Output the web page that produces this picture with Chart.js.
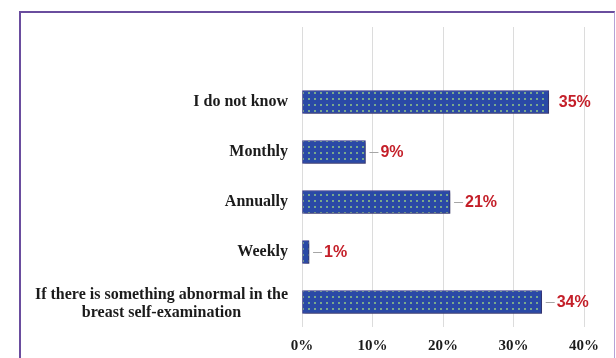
<!DOCTYPE html>
<html>
<head>
<meta charset="utf-8">
<script src="https://cdn.jsdelivr.net/npm/chart.js@4/dist/chart.umd.min.js"></script>
<style>
  html, body { margin: 0; padding: 0; background: #ffffff; }
  #wrap { position: relative; width: 616px; height: 358px; overflow: hidden; }
  #frame {
    position: absolute; left: 19px; top: 11px; width: 593px; height: 360px;
    border-left: 2px solid #6a4d9e; border-top: 2px solid #6a4d9e;
    border-right: 1px solid #b6a2d6; box-sizing: content-box;
  }
  canvas { position: absolute; left: 0; top: 0; }
</style>
</head>
<body>
<div id="wrap">
  <canvas id="chart" width="616" height="358"></canvas>
  <div id="frame"></div>
</div>
<script>
// Answers to "how often should breast self-examination be done?"
const categories = [
  "",
  "I do not know",
  "Monthly",
  "Annually",
  "Weekly",
  ["If there is something abnormal in the", "breast self-examination"]
];
const percentages = [null, 35, 9, 21, 1, 34];
const tickValues = [0, 10, 20, 30, 40];

// Dotted fill for the bars
function dotPattern() {
  const c = document.createElement("canvas");
  c.width = 6; c.height = 6;
  const g = c.getContext("2d");
  g.fillStyle = "#2a49a6";
  g.fillRect(0, 0, 6, 6);
  g.fillStyle = "#79a98c";
  g.fillRect(2, 2, 2, 2);
  return g.createPattern(c, "repeat");
}

const ctx = document.getElementById("chart").getContext("2d");

// Soft shadow under the bars
const barShadow = {
  id: "barShadow",
  beforeDatasetsDraw(chart) {
    const c = chart.ctx;
    c.save();
    c.shadowColor = "rgba(40,40,60,0.45)";
    c.shadowBlur = 3;
    c.shadowOffsetX = 2;
    c.shadowOffsetY = 2;
  },
  afterDatasetsDraw(chart) { chart.ctx.restore(); }
};

// Category names: single lines right-aligned, wrapped names centred on their widest line
const categoryLabels = {
  id: "categoryLabels",
  afterDraw(chart) {
    const c = chart.ctx;
    const y = chart.scales.y;
    const right = y.right - 14;
    const lh = 18;
    c.save();
    c.font = "bold 16px 'Liberation Serif', 'Times New Roman', serif";
    c.fillStyle = "#1b1b1b";
    c.textBaseline = "middle";
    categories.forEach((lab, i) => {
      if (!lab || (Array.isArray(lab) && !lab.length)) return;
      const cy = y.getPixelForValue(i);
      const lines = Array.isArray(lab) ? lab : [lab];
      const widest = Math.max(...lines.map(l => c.measureText(l).width));
      const mid = right - widest / 2;
      const top = cy - (lines.length - 1) * lh / 2 + (lines.length > 1 ? 2 : 0);
      c.textAlign = "center";
      lines.forEach((l, k) => c.fillText(l, mid, top + k * lh));
    });
    c.restore();
  }
};

// Value labels with a short leader line
const valueLabels = {
  id: "valueLabels",
  afterDatasetsDraw(chart) {
    const c = chart.ctx;
    const meta = chart.getDatasetMeta(0);
    c.save();
    c.font = "bold 16px 'Liberation Sans', Arial, sans-serif";
    c.fillStyle = "#c41f29";
    c.textBaseline = "middle";
    c.textAlign = "left";
    meta.data.forEach((bar, i) => {
      const v = percentages[i];
      if (v === null || v === undefined) return;
      const x = bar.x, yy = bar.y;
      if (i !== 1) {
        c.strokeStyle = "#a6a6a6";
        c.lineWidth = 1;
        c.beginPath();
        c.moveTo(x + 4, yy + 0.5);
        c.lineTo(x + 13, yy + 0.5);
        c.stroke();
      }
      c.fillText(v + "%", x + (i === 1 ? 10 : 15), yy + 1);
    });
    c.restore();
  }
};

new Chart(ctx, {
  type: "bar",
  data: {
    labels: categories,
    datasets: [{
      data: percentages,
      backgroundColor: dotPattern(),
      borderColor: "#3b3a8c",
      borderWidth: 1,
      borderSkipped: false,
      barThickness: 23
    }]
  },
  options: {
    indexAxis: "y",
    responsive: false,
    animation: false,
    events: [],
    layout: { padding: { left: 0, right: 32, top: 27, bottom: 0 } },
    plugins: { legend: { display: false }, tooltip: { enabled: false } },
    scales: {
      x: {
        min: 0, max: 40,
        afterBuildTicks(scale) { scale.ticks = tickValues.map(v => ({ value: v })); },
        afterFit(scale) { scale.height = 31; },
        grid: { color: "#dcdcdc", lineWidth: 1, drawTicks: false },
        border: { display: false },
        ticks: {
          padding: 10,
          color: "#1b1b1b",
          font: { family: "'Liberation Serif', 'Times New Roman', serif", size: 15, weight: "bold" },
          callback: v => v + "%"
        }
      },
      y: {
        afterFit(scale) { scale.width = 302; },
        grid: { display: false },
        border: { display: false },
        ticks: { color: "rgba(0,0,0,0)", font: { size: 14 } }
      }
    }
  },
  plugins: [barShadow, valueLabels, categoryLabels]
});
</script>
</body>
</html>
